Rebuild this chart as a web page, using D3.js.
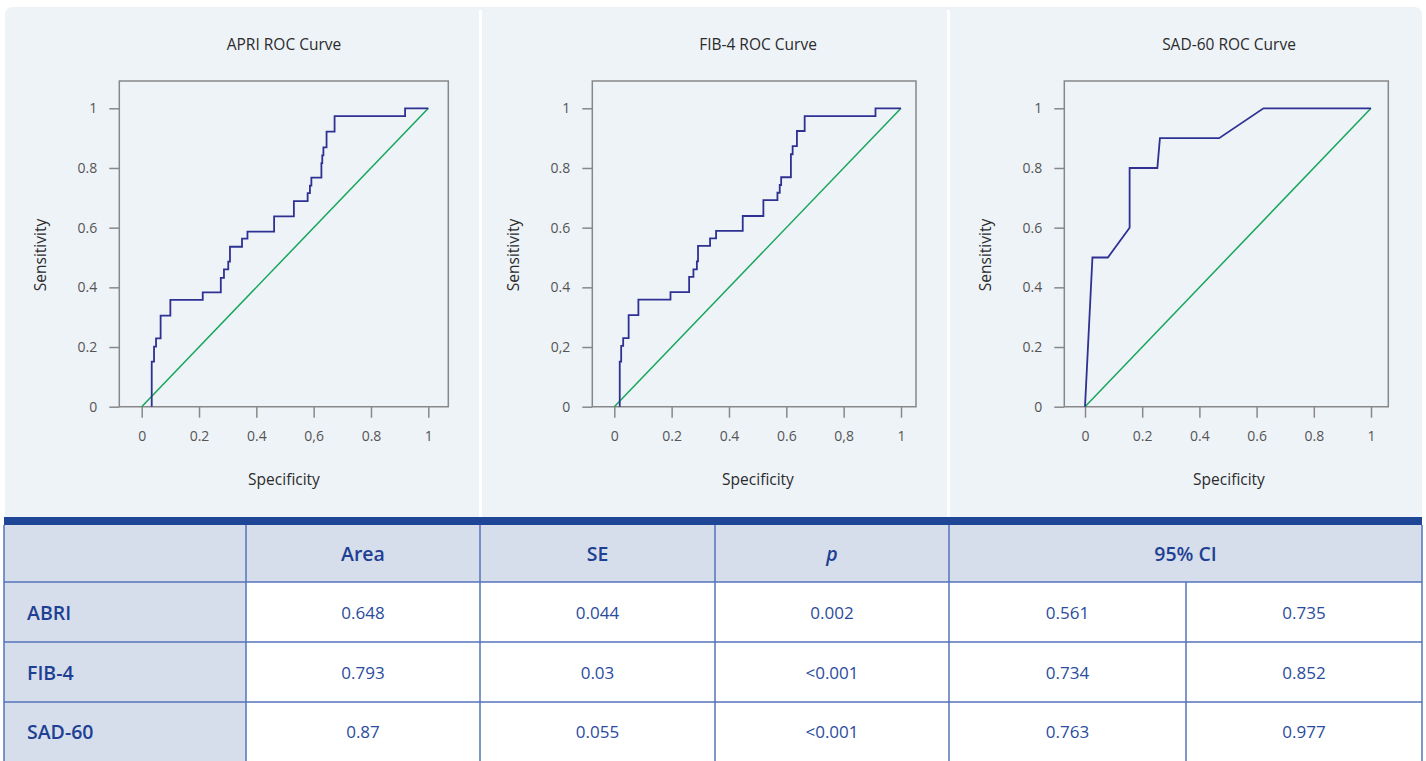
<!DOCTYPE html>
<html>
<head>
<meta charset="utf-8">
<script src="https://cdn.jsdelivr.net/npm/d3@7"></script>
<style>
  body { margin: 0; background: #fff; }
  text { font-family: "Open Sans", sans-serif; }
</style>
</head>
<body>
<div class="chart"></div>
<script>
// ROC curves (x = 1 - specificity, drawn as "Specificity"), steps listed as jump points
var apriSpec = [0.035, 0.035, 0.043, 0.05, 0.066, 0.1, 0.213, 0.276, 0.287, 0.302, 0.308, 0.35, 0.369, 0.462, 0.531, 0.579, 0.587, 0.592, 0.627, 0.630, 0.634, 0.645, 0.673, 0.919, 1];
var apriSens = [0, 0.151, 0.201, 0.229, 0.305, 0.358, 0.383, 0.432, 0.460, 0.486, 0.536, 0.563, 0.587, 0.638, 0.689, 0.716, 0.741, 0.768, 0.816, 0.842, 0.869, 0.922, 0.974, 1.0, 1];

var fibSpec = [0.019, 0.019, 0.024, 0.031, 0.050, 0.084, 0.196, 0.261, 0.276, 0.288, 0.292, 0.334, 0.355, 0.448, 0.520, 0.569, 0.577, 0.582, 0.616, 0.622, 0.637, 0.664, 0.911, 1];
var fibSens = [0, 0.151, 0.204, 0.230, 0.307, 0.359, 0.384, 0.435, 0.460, 0.487, 0.539, 0.564, 0.589, 0.639, 0.692, 0.717, 0.743, 0.769, 0.846, 0.873, 0.924, 0.974, 1.0, 1];

var sadSpec = [0, 0.026, 0.080, 0.156, 0.156, 0.253, 0.262, 0.469, 0.624, 1];
var sadSens = [0, 0.5, 0.5, 0.6, 0.8, 0.8, 0.9, 0.9, 1, 1];

var refLine = [0, 1];
var tickValues = [0, 0.2, 0.4, 0.6, 0.8, 1];

// tick labels as printed (some use a comma)
var apriXLabels = ["0", "0.2", "0.4", "0,6", "0.8", "1"];
var apriYLabels = ["0", "0.2", "0.4", "0.6", "0.8", "1"];
var fibXLabels = ["0", "0.2", "0.4", "0.6", "0,8", "1"];
var fibYLabels = ["0", "0,2", "0.4", "0.6", "0.8", "1"];
var sadXLabels = ["0", "0.2", "0.4", "0.6", "0.8", "1"];
var sadYLabels = ["0", "0.2", "0.4", "0.6", "0.8", "1"];

var chartTitles = ["APRI ROC Curve", "FIB-4 ROC Curve", "SAD-60 ROC Curve"];

// table
var tableHeaders = ["Area", "SE", "p", "95% CI"];
var rowNames = ["ABRI", "FIB-4", "SAD-60"];
var areaVals = ["0.648", "0.793", "0.87"];
var seVals = ["0.044", "0.03", "0.055"];
var pVals = ["0.002", "<0.001", "<0.001"];
var ciLow = ["0.561", "0.734", "0.763"];
var ciHigh = ["0.735", "0.852", "0.977"];

var svgWidth = 1426;
var svgHeight = 761;

var svg = d3.select(".chart")
  .append("svg")
  .attr("width", svgWidth)
  .attr("height", svgHeight);

// panel background
svg.append("path")
  .attr("d", "M5,517 V15 Q5,7 13,7 H1414 Q1422,7 1422,15 V517 Z")
  .attr("fill", "#eef3f8");
[480.5, 948.5].forEach(function(x) {
  svg.append("rect").attr("x", x - 1.5).attr("y", 10).attr("width", 3).attr("height", 507).attr("fill", "#fff");
});

// layout of each plot
var panels = [
  {spec: apriSpec, sens: apriSens, curve: d3.curveStepAfter, xl: apriXLabels, yl: apriYLabels,
   boxL: 119.3, x0: 141.7, x1: 428.3, boxR: 448.3, cx: 284, sensX: 41},
  {spec: fibSpec, sens: fibSens, curve: d3.curveStepAfter, xl: fibXLabels, yl: fibYLabels,
   boxL: 592.3, x0: 614.3, x1: 901, boxR: 916, cx: 758, sensX: 514},
  {spec: sadSpec, sens: sadSens, curve: d3.curveLinear, xl: sadXLabels, yl: sadYLabels,
   boxL: 1064.3, x0: 1085, x1: 1371, boxR: 1388.3, cx: 1229, sensX: 986}
];
var boxTop = 81;
var yScale = d3.scaleLinear().domain([0, 1]).range([406.7, 108.3]);

panels.forEach(function(p, i) {
  var xScale = d3.scaleLinear().domain([0, 1]).range([p.x0, p.x1]);
  var g = svg.append("g");

  g.append("text")
    .attr("x", p.cx).attr("y", 50)
    .attr("text-anchor", "middle")
    .style("font-size", "15.5px")
    .style("fill", "#2b2b2b")
    .text(chartTitles[i]);

  // box
  g.append("path")
    .attr("d", "M" + p.boxL + "," + yScale(0) + " V" + boxTop + " H" + p.boxR + " V" + yScale(0) + " Z")
    .attr("fill", "none")
    .attr("stroke", "#888")
    .attr("stroke-width", 1.5);

  var bottomAxis = d3.axisBottom(xScale)
    .tickValues(tickValues)
    .tickSize(11)
    .tickPadding(13)
    .tickFormat(function(d, k) { return p.xl[k]; });
  var leftAxis = d3.axisLeft(yScale)
    .tickValues(tickValues)
    .tickSize(10)
    .tickPadding(12)
    .tickFormat(function(d, k) { return p.yl[k]; });

  var gx = g.append("g")
    .attr("transform", "translate(0," + yScale(0) + ")")
    .call(bottomAxis);
  var gy = g.append("g")
    .attr("transform", "translate(" + p.boxL + ",0)")
    .call(leftAxis);
  [gx, gy].forEach(function(a) {
    a.select(".domain").remove();
    a.selectAll("line").attr("stroke", "#888").attr("stroke-width", 1.5);
    a.selectAll("text")
      .style("font-family", "'Open Sans', sans-serif")
      .style("font-size", "14px")
      .style("fill", "#555");
  });

  g.append("text")
    .attr("x", p.cx).attr("y", 485)
    .attr("text-anchor", "middle")
    .style("font-size", "15.5px")
    .style("fill", "#2b2b2b")
    .text("Specificity");

  g.append("text")
    .attr("transform", "translate(" + p.sensX + "," + 255 + ") rotate(-90)")
    .attr("text-anchor", "middle")
    .attr("dy", "0.35em")
    .style("font-size", "15.5px")
    .style("fill", "#2b2b2b")
    .text("Sensitivity");

  // reference diagonal
  g.append("path")
    .datum(refLine)
    .attr("d", d3.line().x(function(d) { return xScale(d); }).y(function(d) { return yScale(d); }))
    .attr("fill", "none")
    .attr("stroke", "#17a65a")
    .attr("stroke-width", 1.5);

  // ROC curve
  var pts = p.spec.map(function(s, k) { return [s, p.sens[k]]; });
  g.append("path")
    .datum(pts)
    .attr("d", d3.line().curve(p.curve)
      .x(function(d) { return xScale(d[0]); })
      .y(function(d) { return yScale(d[1]); }))
    .attr("fill", "none")
    .attr("stroke", "#2e3192")
    .attr("stroke-width", 1.8);
});

// ---- table ----
var colX = [4, 246, 480, 715, 949, 1186, 1422];
var rowY = [525, 582, 642, 702, 761];
var lineColor = "#5473bd";
var headBg = "#d5deea";
var darkBlue = "#1f3f94";
var t = svg.append("g");

t.append("rect").attr("x", 4).attr("y", 517).attr("width", 1418).attr("height", 8).attr("fill", "#1f4597");
t.append("rect").attr("x", 4).attr("y", rowY[0]).attr("width", 1418).attr("height", rowY[1] - rowY[0]).attr("fill", headBg);
t.append("rect").attr("x", 4).attr("y", rowY[1]).attr("width", colX[1] - 4).attr("height", rowY[4] - rowY[1]).attr("fill", headBg);
t.append("rect").attr("x", colX[1]).attr("y", rowY[1]).attr("width", 1422 - colX[1]).attr("height", rowY[4] - rowY[1]).attr("fill", "#fff");

// grid lines
rowY.slice(1, 4).forEach(function(y) {
  t.append("line").attr("x1", 4).attr("x2", 1422).attr("y1", y).attr("y2", y)
    .attr("stroke", lineColor).attr("stroke-width", 1.5);
});
colX.forEach(function(x, k) {
  var top = (k === 5) ? rowY[1] : rowY[0];
  t.append("line").attr("x1", x).attr("x2", x).attr("y1", top).attr("y2", 761)
    .attr("stroke", lineColor).attr("stroke-width", 1.5);
});

// header texts
var headCenters = [(colX[1] + colX[2]) / 2, (colX[2] + colX[3]) / 2, (colX[3] + colX[4]) / 2, (colX[4] + colX[6]) / 2];
tableHeaders.forEach(function(h, k) {
  t.append("text")
    .attr("x", headCenters[k]).attr("y", (rowY[0] + rowY[1]) / 2 + 1)
    .attr("dy", "0.35em")
    .attr("text-anchor", "middle")
    .style("font-size", "19.5px")
    .style("font-weight", "600")
    .style("font-style", h === "p" ? "italic" : "normal")
    .style("fill", darkBlue)
    .text(h);
});

var cols = [areaVals, seVals, pVals, ciLow, ciHigh];
rowNames.forEach(function(name, r) {
  var cy = (rowY[r + 1] + rowY[r + 2]) / 2 + 1;
  t.append("text")
    .attr("x", 27).attr("y", cy)
    .attr("dy", "0.35em")
    .style("font-size", "19.5px")
    .style("font-weight", "600")
    .style("fill", darkBlue)
    .text(name);
  cols.forEach(function(vals, c) {
    t.append("text")
      .attr("x", (colX[c + 1] + colX[c + 2]) / 2).attr("y", cy)
      .attr("dy", "0.35em")
      .attr("text-anchor", "middle")
      .style("font-size", "17px")
      .style("fill", "#2a4b9e")
      .text(vals[r]);
  });
});
</script>
</body>
</html>
